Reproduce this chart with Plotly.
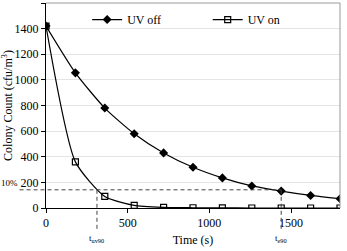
import plotly.graph_objects as go

time_s = [0, 180, 360, 540, 720, 900, 1080, 1260, 1440, 1620, 1800]
uv_off = [1420, 1055, 780, 580, 430, 318, 235, 172, 132, 98, 72]
uv_on = [1420, 360, 90, 20, 5, 2, 1, 0, 0, 0, 0]
ten_pct = 142
t_uv90 = 312
t_e90 = 1440
x_max = 1800
y_max = 1600
y_ticks = [0, 200, 400, 600, 800, 1000, 1200, 1400, 1600]
x_ticks = [0, 500, 1000, 1500]

FONT = "Times New Roman"

fig = go.Figure()
fig.add_trace(go.Scatter(
    x=time_s, y=uv_off, name="UV off", mode="lines+markers", legend="legend",
    line=dict(color="black", width=1.2, shape="spline", smoothing=0.6),
    marker=dict(symbol="diamond", size=7, color="black"),
))
fig.add_trace(go.Scatter(
    x=time_s, y=uv_on, name="UV on", mode="lines+markers", legend="legend2",
    line=dict(color="black", width=1.2, shape="spline", smoothing=0.6),
    marker=dict(symbol="square-open", size=6, color="black", line=dict(width=1.2)),
))

yf = ten_pct / y_max
dash = dict(color="#444444", width=1, dash="4px,3px")
fig.add_shape(type="line", xref="paper", yref="paper",
              x0=-0.09, x1=t_e90 / x_max, y0=yf, y1=yf, line=dash)
fig.add_shape(type="line", xref="x", yref="paper",
              x0=t_uv90, x1=t_uv90, y0=yf, y1=-0.11, line=dash)
fig.add_shape(type="line", xref="x", yref="paper",
              x0=t_e90, x1=t_e90, y0=yf, y1=-0.11, line=dash)

fig.add_annotation(xref="paper", yref="paper", x=-0.09, y=yf, text="10%",
                   showarrow=False, xanchor="right", font=dict(size=9, family=FONT))
fig.add_annotation(xref="x", yref="paper", x=t_uv90, y=-0.11, text="t<sub>uv90</sub>",
                   showarrow=False, xanchor="center", yanchor="top",
                   font=dict(size=9, family=FONT))
fig.add_annotation(xref="x", yref="paper", x=t_e90, y=-0.11, text="t<sub>e90</sub>",
                   showarrow=False, xanchor="center", yanchor="top",
                   font=dict(size=9, family=FONT))

leg_common = dict(orientation="h", y=0.99, xanchor="left", yanchor="top",
                  bgcolor="rgba(255,255,255,0)", font=dict(size=12, family=FONT),
                  itemwidth=30)
fig.update_layout(
    width=347, height=251,
    margin=dict(l=46, r=7, t=3, b=43),
    paper_bgcolor="white", plot_bgcolor="white",
    font=dict(family=FONT, size=12, color="black"),
    showlegend=True,
    legend=dict(x=0.14, **leg_common),
    legend2=dict(x=0.55, **leg_common),
    xaxis=dict(range=[0, x_max], tickvals=x_ticks, showgrid=False,
               showline=True, linecolor="black", linewidth=1, ticks="outside",
               ticklen=4, tickcolor="black", zeroline=False,
               title=dict(text="Time (s)", standoff=6, font=dict(size=12, family=FONT)),
               tickfont=dict(size=12, family=FONT)),
    yaxis=dict(range=[0, y_max], tickvals=y_ticks, showgrid=True,
               gridcolor="#e4e4e4", gridwidth=1,
               showline=True, linecolor="black", linewidth=1, ticks="outside",
               ticklen=4, tickcolor="black", zeroline=False,
               title=dict(text="Colony Count (cfu/m<sup>3</sup>)", standoff=4,
                          font=dict(size=12, family=FONT)),
               tickfont=dict(size=12, family=FONT)),
)
fig.add_shape(type="line", xref="paper", yref="paper", x0=1, x1=1, y0=0, y1=1,
              line=dict(color="#999999", width=1))
fig.add_shape(type="line", xref="paper", yref="paper", x0=0, x1=1, y0=1, y1=1,
              line=dict(color="#999999", width=1))

fig.write_html("out.html")
